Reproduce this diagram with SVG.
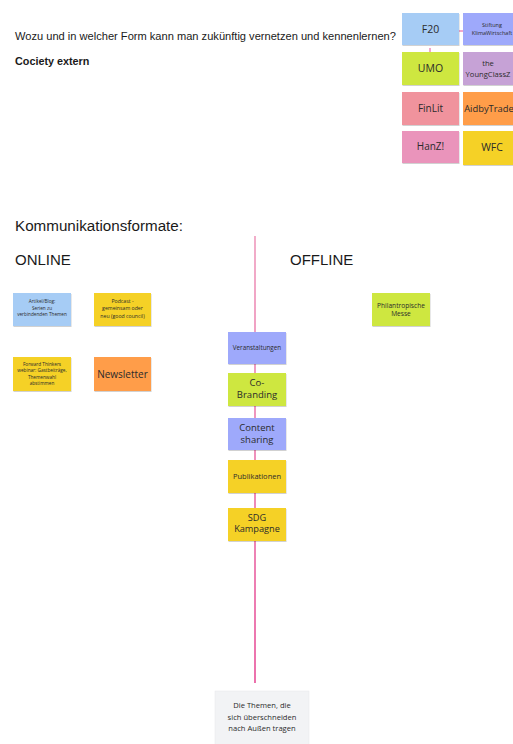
<svg xmlns="http://www.w3.org/2000/svg" width="513" height="744" viewBox="0 0 513 744">
<defs>
<linearGradient id="lg" gradientUnits="userSpaceOnUse" x1="255" y1="236" x2="255" y2="683">
<stop offset="0" stop-color="#ea82ad"/>
<stop offset="1" stop-color="#e1247f"/>
</linearGradient>
<filter id="sh" x="-10%" y="-10%" width="130%" height="140%">
<feDropShadow dx="0.5" dy="1" stdDeviation="0.6" flood-color="#000" flood-opacity="0.18"/>
</filter>
<style>
.h{font-family:"Liberation Sans",Arial,sans-serif;fill:#1a1a1a}
.n{font-family:"Open Sans","Noto Sans",sans-serif;fill:#2b2b2b;text-anchor:middle}
.s{filter:url(#sh)}
.blue{fill:#a6ccf5}.peri{fill:#9ea9fb}.green{fill:#cee741}.purp{fill:#c6a2d6}
.red{fill:#f0939d}.orange{fill:#ff9d48}.pink{fill:#ea94bb}.yellow{fill:#f5d128}
</style>
</defs>
<rect width="513" height="744" fill="#ffffff"/>

<text class="h" x="15" y="40" font-size="11.1">Wozu und in welcher Form kann man zukünftig vernetzen und kennenlernen?</text>
<text class="h" x="15" y="65" font-size="10.8" font-weight="bold">Cociety extern</text>
<text class="h" x="15" y="231" font-size="15.2">Kommunikationsformate:</text>
<text class="h" x="15" y="265" font-size="15">ONLINE</text>
<text class="h" x="290" y="265" font-size="15">OFFLINE</text>

<g id="connectors">
<line x1="255" y1="236" x2="255" y2="683" stroke="url(#lg)" stroke-width="1.3"/>
<line x1="459" y1="31" x2="463" y2="31" stroke="#e1247f" stroke-width="0.8"/>
<line x1="430" y1="48" x2="430" y2="52" stroke="#e1247f" stroke-width="0.8"/>
</g>

<g id="n-f20"><rect class="s blue" x="402" y="13" width="57" height="32"/><text class="n" x="430.5" y="33" font-size="10.5">F20</text></g>
<g id="n-stiftung"><rect class="s peri" x="463" y="13" width="58" height="32"/><text class="n" x="492" y="27" font-size="5.5">Stiftung</text><text class="n" x="492" y="35" font-size="5.5">KlimaWirtschaft</text></g>
<g id="n-umo"><rect class="s green" x="402" y="52" width="57" height="33"/><text class="n" x="430.5" y="72" font-size="10.5">UMO</text></g>
<g id="n-young"><rect class="s purp" x="463" y="52" width="58" height="33"/><text class="n" x="488" y="66" font-size="7.6">the</text><text class="n" x="488" y="77" font-size="7.6">YoungClassZ</text></g>
<g id="n-finlit"><rect class="s red" x="402" y="92" width="57" height="33"/><text class="n" x="430.5" y="112" font-size="10">FinLit</text></g>
<g id="n-aid"><rect class="s orange" x="463" y="92" width="58" height="33"/><text class="n" x="489" y="112" font-size="9.4">AidbyTrade</text></g>
<g id="n-hanz"><rect class="s pink" x="402" y="131" width="57" height="32"/><text class="n" x="430.5" y="150" font-size="10">HanZ!</text></g>
<g id="n-wfc"><rect class="s yellow" x="463" y="131" width="58" height="34"/><text class="n" x="492" y="151" font-size="10.5">WFC</text></g>

<g id="n-artikel"><rect class="s blue" x="13" y="293" width="58" height="33"/><text class="n" x="42" y="303" font-size="4.7">Artikel/Blog:</text><text class="n" x="42" y="309.5" font-size="4.7">Serien zu</text><text class="n" x="42" y="316" font-size="4.7">verbindenden Themen</text></g>
<g id="n-podcast"><rect class="s yellow" x="94" y="293" width="57" height="33"/><text class="n" x="122.5" y="302.5" font-size="5.2">Podcast -</text><text class="n" x="122.5" y="310" font-size="5.2">gemeinsam oder</text><text class="n" x="122.5" y="317.5" font-size="5.2">neu (good council)</text></g>
<g id="n-forward"><rect class="s yellow" x="13" y="357" width="58" height="34"/><text class="n" x="42" y="365.5" font-size="4.7">Forward Thinkers</text><text class="n" x="42" y="372" font-size="4.7">webinar: Gastbeiträge,</text><text class="n" x="42" y="378.5" font-size="4.7">Themenwahl</text><text class="n" x="42" y="385" font-size="4.7">abstimmen</text></g>
<g id="n-newsletter"><rect class="s orange" x="94" y="357" width="57" height="34"/><text class="n" x="122.5" y="377.5" font-size="10">Newsletter</text></g>

<g id="n-philan"><rect class="s green" x="372" y="293" width="58" height="33"/><text class="n" x="401" y="307.5" font-size="6.6">Philantropische</text><text class="n" x="401" y="315.5" font-size="6.6">Messe</text></g>

<g id="n-veranst"><rect class="s peri" x="228" y="332" width="58" height="32"/><text class="n" x="257" y="350" font-size="6.3">Veranstaltungen</text></g>
<g id="n-cobrand"><rect class="s green" x="228" y="373" width="58" height="33"/><text class="n" x="257" y="385.7" font-size="9.5">Co-</text><text class="n" x="257" y="397.5" font-size="9.5">Branding</text></g>
<g id="n-content"><rect class="s peri" x="228" y="418" width="58" height="32"/><text class="n" x="257" y="430.5" font-size="9.5">Content</text><text class="n" x="257" y="442.7" font-size="9.5">sharing</text></g>
<g id="n-publ"><rect class="s yellow" x="228" y="460" width="58" height="33"/><text class="n" x="257" y="479" font-size="7.5">Publikationen</text></g>
<g id="n-sdg"><rect class="s yellow" x="228" y="508" width="58" height="33"/><text class="n" x="257" y="520.7" font-size="9.2">SDG</text><text class="n" x="257" y="532.3" font-size="9.2">Kampagne</text></g>

<g id="n-themen"><rect x="215" y="691" width="94" height="60" fill="#f2f3f5" stroke="#e6e7ea" stroke-width="0.5"/><text class="n" x="262" y="708" font-size="7.6">Die Themen, die</text><text class="n" x="262" y="719.5" font-size="7.6">sich überschneiden</text><text class="n" x="262" y="731" font-size="7.6">nach Außen tragen</text></g>
</svg>
